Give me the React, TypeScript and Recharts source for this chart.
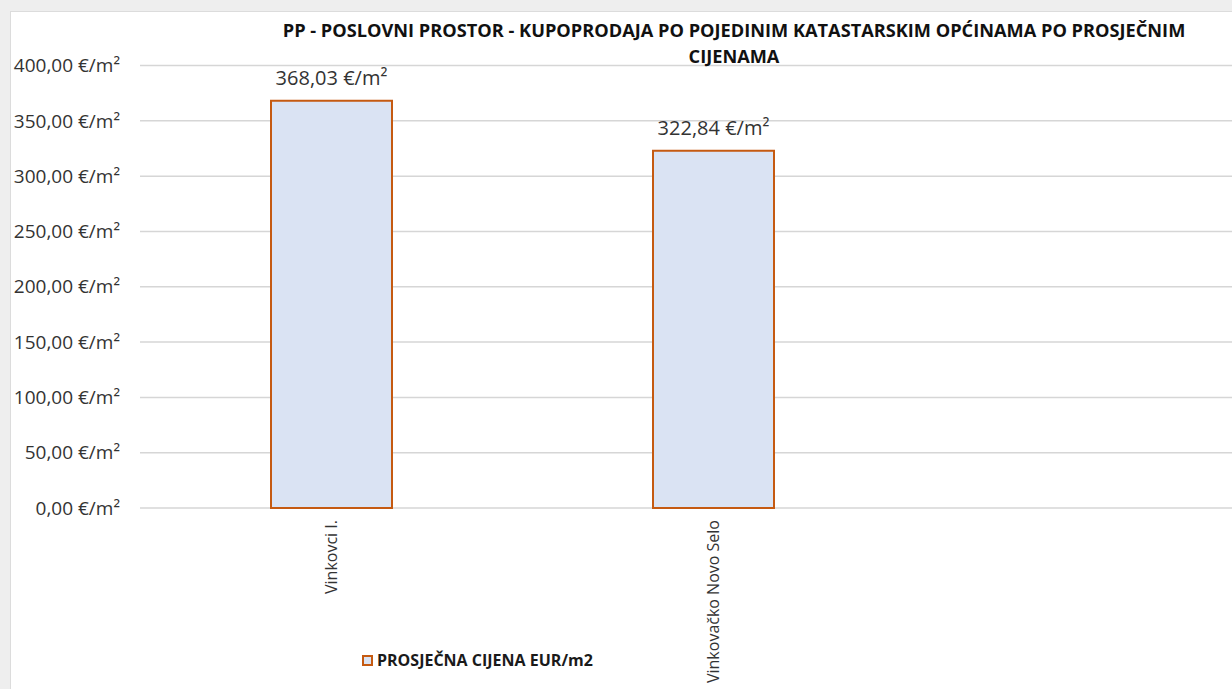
import React from 'react';
import { BarChart, Bar, XAxis, YAxis, CartesianGrid, LabelList, Legend } from 'recharts';

const categories = ['Vinkovci I.', 'Vinkovačko Novo Selo', ''];
const prices = [368.03, 322.84, null];
const yTicks = [0, 50, 100, 150, 200, 250, 300, 350, 400];
const seriesName = 'PROSJEČNA CIJENA EUR/m2';
const titleLine1 = 'PP - POSLOVNI PROSTOR - KUPOPRODAJA PO POJEDINIM KATASTARSKIM OPĆINAMA PO PROSJEČNIM';
const titleLine2 = 'CIJENAMA';

const data = categories.map((name, i) => ({ name, price: prices[i] }));

const FONT = '"Open Sans", "Noto Sans", sans-serif';
const fmt = (v: number) => v.toFixed(2).replace('.', ',') + ' €/m²';

const XTick = (props: any) => {
  const { x, y, payload } = props;
  return (
    <g transform={`translate(${x},${y})`}>
      <text transform="rotate(-90)" x={-12} y={0} dy="0.35em" textAnchor="end" fontSize={16} fill="#333333" fontFamily={FONT}>
        {payload.value}
      </text>
    </g>
  );
};

const LegendContent = () => (
  <div style={{ display: 'flex', alignItems: 'center', marginLeft: 362, height: 18, fontFamily: FONT }}>
    <span style={{ display: 'inline-block', width: 7, height: 7, background: '#dae3f3', border: '2px solid #c55a11', marginRight: 4 }} />
    <span style={{ fontSize: 16, fontWeight: 700, color: '#1a1a1a' }}>{seriesName}</span>
  </div>
);

export default function App() {
  return (
    <div style={{ position: 'absolute', left: 0, top: 0, width: 1232, height: 689, overflow: 'hidden', background: '#eeeeee' }}>
      <div style={{ position: 'absolute', left: 10, top: 11, right: 0, bottom: 0, background: '#ffffff', borderLeft: '1px solid #dcdcdc', borderTop: '1px solid #dcdcdc' }} />
      <div style={{ position: 'absolute', left: 0, top: 0 }}>
        <BarChart width={1300} height={689} data={data} margin={{ top: 65.5, right: 14, bottom: 20, left: 0 }} barSize={121}>
          <CartesianGrid vertical={false} stroke="#d6d6d6" strokeWidth={1.5} />
          <XAxis dataKey="name" height={143} tickLine={false} axisLine={false} tickSize={0} tickMargin={0} interval={0} tick={<XTick />} />
          <YAxis
            domain={[0, 400]}
            ticks={yTicks}
            width={140}
            tickLine={false}
            axisLine={false}
            tickSize={0}
            tickMargin={20}
            tickFormatter={fmt}
            tick={{ fill: '#333333', fontSize: 19, fontFamily: FONT }}
          />
          <Legend verticalAlign="bottom" align="left" content={<LegendContent />} />
          <Bar dataKey="price" name={seriesName} fill="#dae3f3" stroke="#c55a11" strokeWidth={2} isAnimationActive={false}>
            <LabelList dataKey="price" position="top" offset={16} formatter={(v: any) => (v == null ? '' : fmt(v))} fill="#333333" fontSize={20} fontFamily={FONT} />
          </Bar>
        </BarChart>
      </div>
      <div style={{ position: 'absolute', left: 734, top: 17, transform: 'translateX(-50%)', textAlign: 'center', fontFamily: FONT, fontWeight: 700, fontSize: 18.2, lineHeight: '26px', color: '#111111', whiteSpace: 'nowrap' }}>
        <div>{titleLine1}</div>
        <div>{titleLine2}</div>
      </div>
    </div>
  );
}
